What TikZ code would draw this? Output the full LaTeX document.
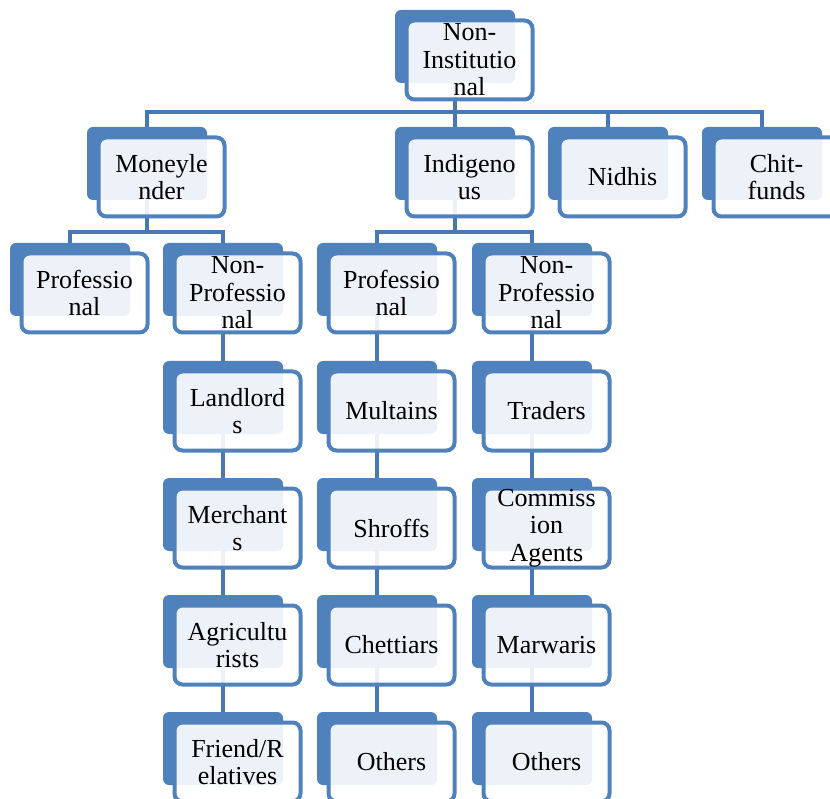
\documentclass[tikz,border=0pt]{standalone}
\usepackage{fontspec}
\setmainfont{Liberation Serif}
\definecolor{sablue}{RGB}{79,129,189}
\definecolor{lnblue}{RGB}{72,120,180}
\pgfdeclarelayer{bg}\pgfsetlayers{bg,main}
\tikzset{
 backbox/.style={fill=sablue, rounded corners=6pt, minimum width=120pt, minimum height=73pt, inner sep=0pt, outer sep=0pt},
 frontbox/.style={draw=sablue, line width=4pt, fill=white, fill opacity=0.9, text opacity=1, draw opacity=1, rounded corners=8pt, minimum width=126pt, minimum height=79pt, inner sep=0pt, align=center, font=\fontsize{26}{27.5}\selectfont},
 conn/.style={draw=lnblue, line width=4pt}
}
\newcommand\orgnode[4]{%
 \node[backbox] (#1) at (#2+60,#3+36.5) {};
 \node[frontbox] (#1f) at (#2+74.5,#3+50) {#4};}
\begin{document}
\begin{tikzpicture}[x=1pt,y=-1pt]
\useasboundingbox (0,0) rectangle (830,799);
\clip (0,0) rectangle (830,799);
\orgnode{ni}{395}{10}{Non-\\Institutio\\nal}
\orgnode{ml}{87}{127}{Moneyle\\nder}
\orgnode{ig}{395}{127}{Indigeno\\us}
\orgnode{nd}{548}{127}{Nidhis}
\orgnode{cf}{702}{127}{Chit-\\funds}
\orgnode{mp}{10}{243}{Professio\\nal}
\orgnode{mn}{163}{243}{Non-\\Professio\\nal}
\orgnode{ip}{317}{243}{Professio\\nal}
\orgnode{in}{472}{243}{Non-\\Professio\\nal}
\orgnode{ll}{163}{361}{Landlord\\s}
\orgnode{mu}{317}{361}{Multains}
\orgnode{tr}{472}{361}{Traders}
\orgnode{me}{163}{478}{Merchant\\s}
\orgnode{sh}{317}{478}{Shroffs}
\orgnode{ca}{472}{478}{Commiss\\ion\\Agents}
\orgnode{ag}{163}{595}{Agricultu\\rists}
\orgnode{ch}{317}{595}{Chettiars}
\orgnode{mw}{472}{595}{Marwaris}
\orgnode{fr}{163}{712}{Friend/R\\elatives}
\orgnode{oa}{317}{712}{Others}
\orgnode{ob}{472}{712}{Others}
\begin{pgfonlayer}{bg}
\coordinate (bus0) at (0,112);
\coordinate (bus1) at (0,232);
\foreach \c in {ml,ig,nd,cf}{
  \draw[conn] (ni.center) -- (ni.center |- bus0) -| (\c.north);}
\foreach \c in {mp,mn}{
  \draw[conn] (ml.center) -- (ml.center |- bus1) -| (\c.north);}
\foreach \c in {ip,in}{
  \draw[conn] (ig.center) -- (ig.center |- bus1) -| (\c.north);}
\draw[conn] (mn.center) -- (ll.center) -- (me.center) -- (ag.center) -- (fr.center);
\draw[conn] (ip.center) -- (mu.center) -- (sh.center) -- (ch.center) -- (oa.center);
\draw[conn] (in.center) -- (tr.center) -- (ca.center) -- (mw.center) -- (ob.center);
\end{pgfonlayer}
\end{tikzpicture}
\end{document}
